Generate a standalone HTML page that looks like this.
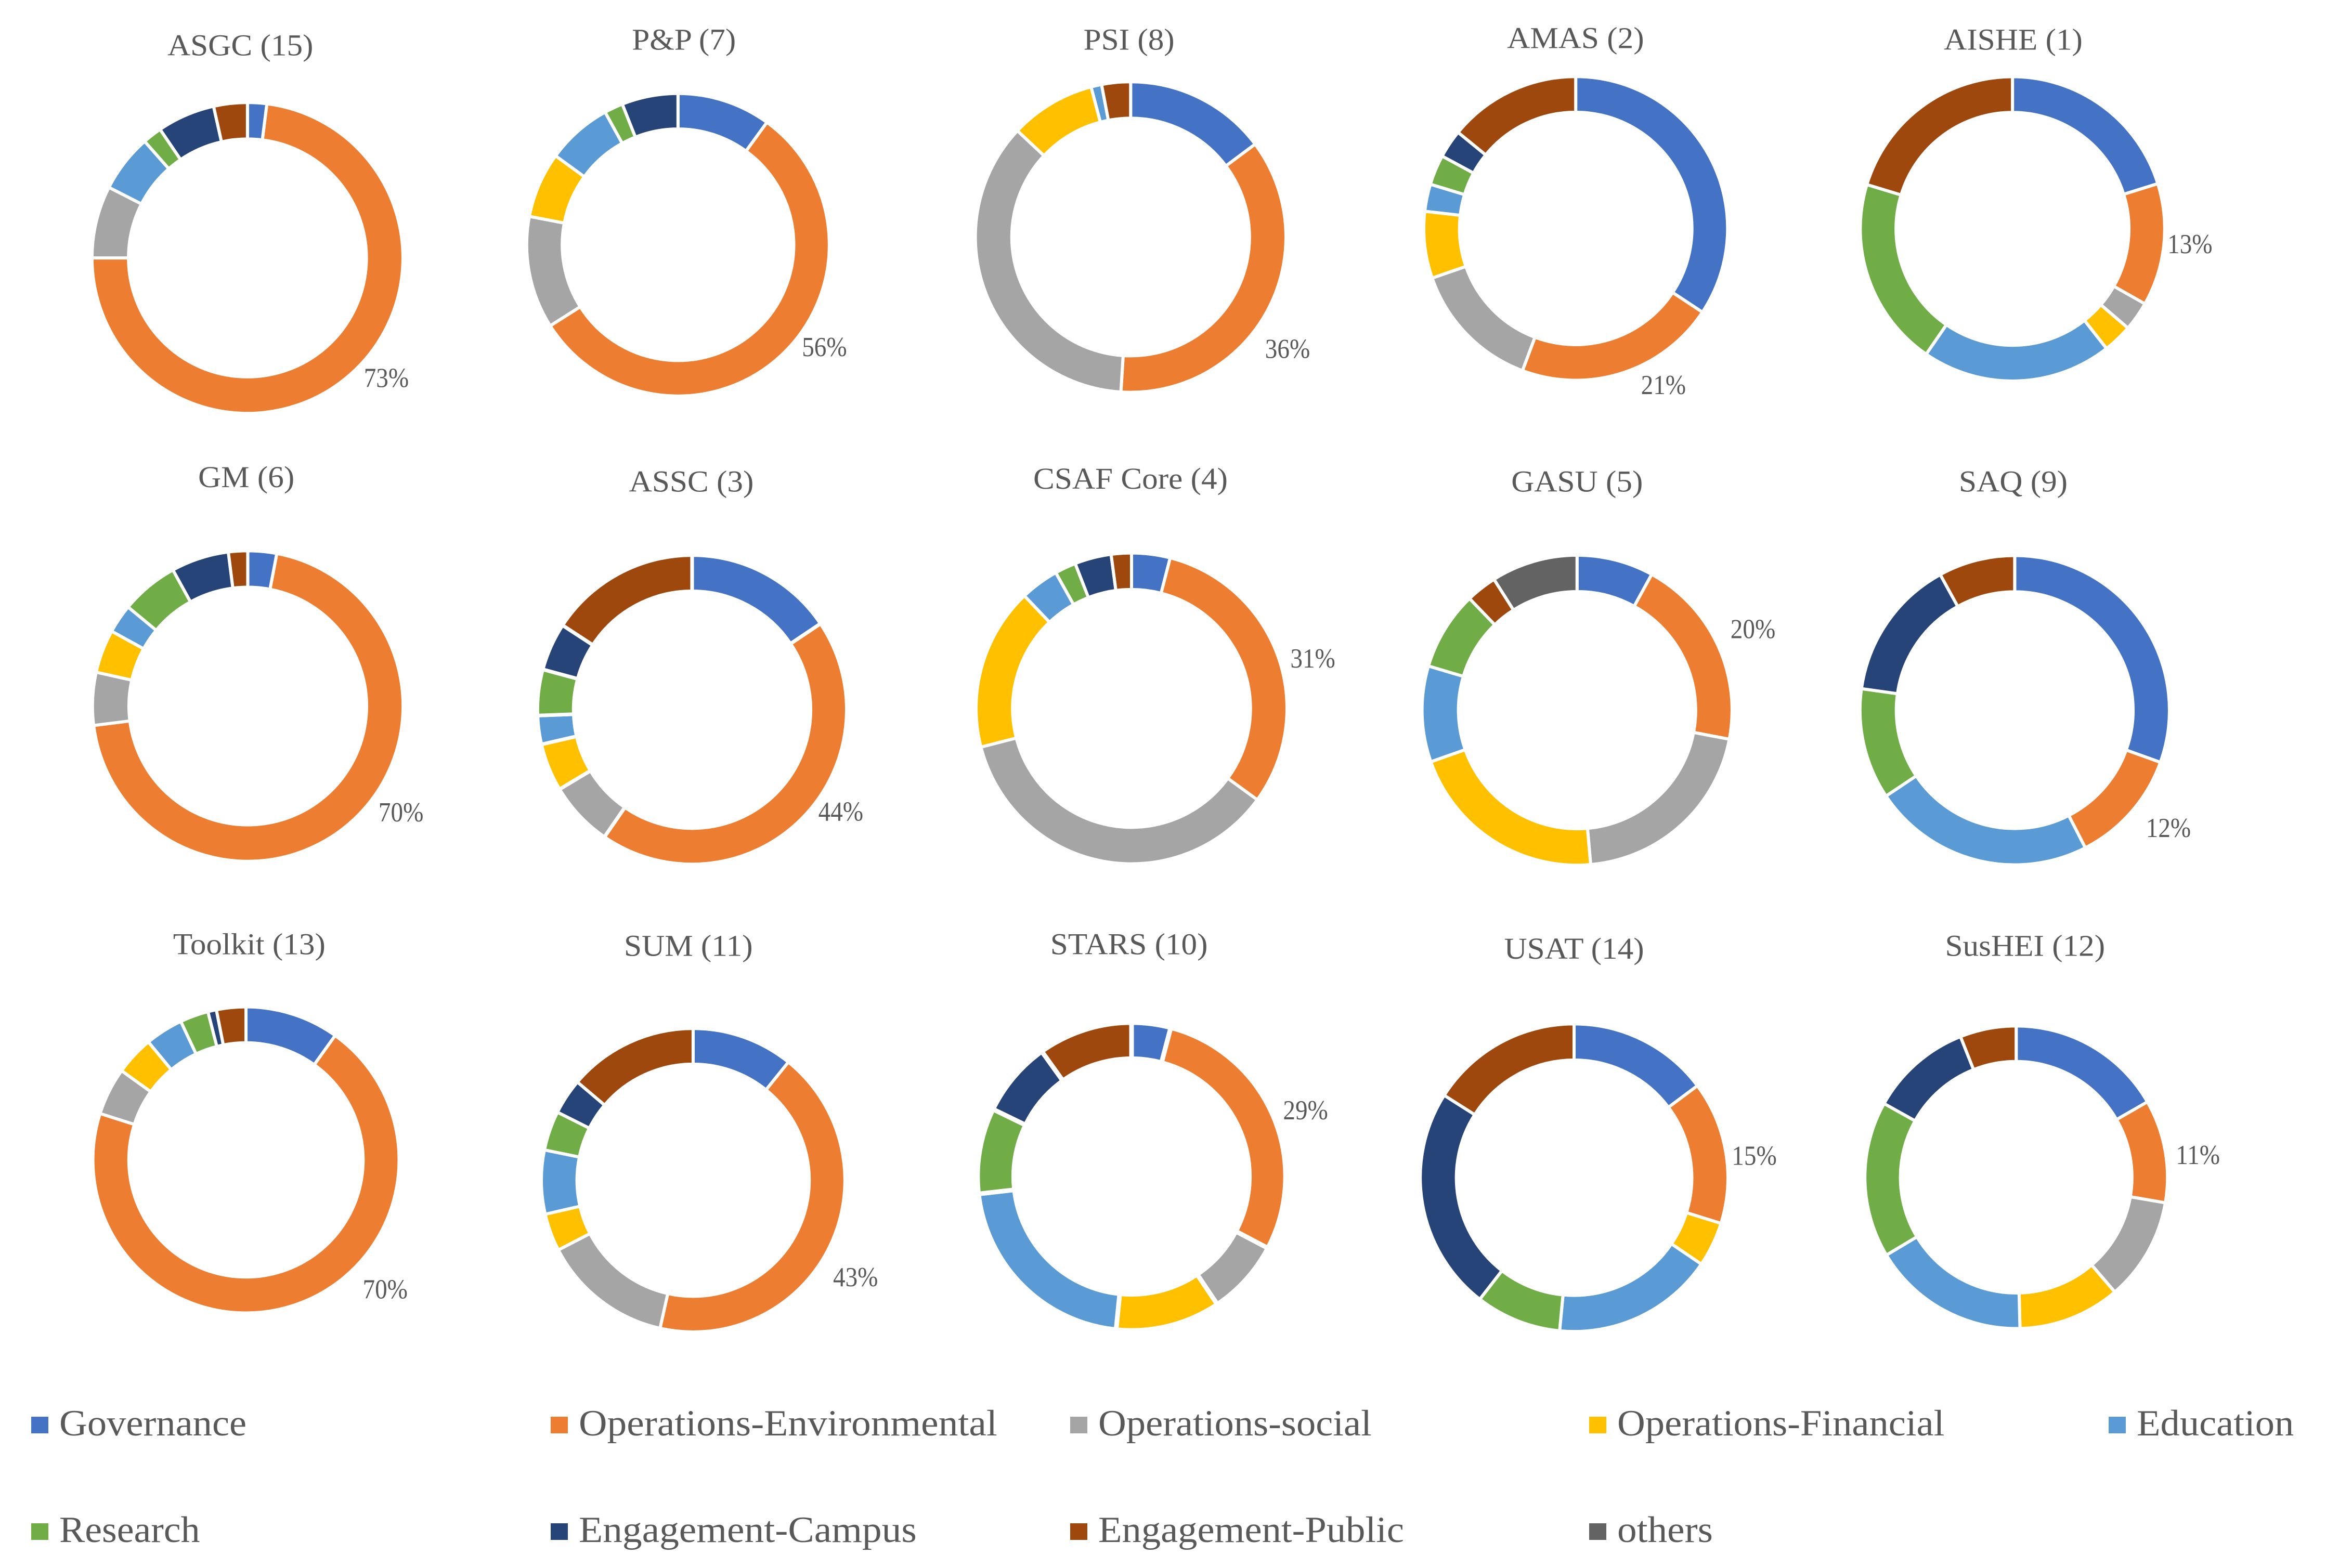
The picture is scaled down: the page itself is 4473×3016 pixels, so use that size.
<!DOCTYPE html>
<html lang="en">
<head>
<meta charset="utf-8">
<title>Donut charts of indicator categories by assessment tool</title>
<style>
html,body{margin:0;padding:0;background:#fff;width:4473px;height:3016px;overflow:hidden}
svg{display:block}
text{font-family:"Liberation Serif","Noto Serif CJK SC",serif;fill:#595959}
</style>
</head>
<body>
<svg id="chart" xmlns="http://www.w3.org/2000/svg" width="4473" height="3016" viewBox="0 0 4473 3016">
<rect width="4473" height="3016" fill="#ffffff"/>
</svg>
<script>
// Series order: Governance, Environmental, Social, Financial, Education, Research, Campus, Public, others
const categories = ['Governance','Operations-Environmental','Operations-social','Operations-Financial','Education','Research','Engagement-Campus','Engagement-Public','others'];
const toolNames = ['ASGC (15)','P&P (7)','PSI (8)','AMAS (2)','AISHE (1)','GM (6)','ASSC (3)','CSAF Core (4)','GASU (5)','SAQ (9)','Toolkit (13)','SUM (11)','STARS (10)','USAT (14)','SusHEI (12)'];

const asgcValues    = [2, 73, 7.5, 0, 6, 2, 6, 3.5, 0];
const ppValues      = [10, 56, 12, 7, 7, 2, 6, 0, 0];
const psiValues     = [14.8, 36.2, 36, 8.9, 1.1, 0, 0, 3, 0];
const amasValues    = [34.3, 21.4, 14, 7.1, 2.9, 3.2, 3, 14.1, 0];
const aisheValues   = [20.2, 13, 3.1, 3.1, 20.2, 20.1, 0, 20.3, 0];
const gmValues      = [3, 70, 5.5, 4.5, 3, 6, 6, 2, 0];
const asscValues    = [15.6, 44, 6.8, 5, 3, 4.8, 5, 15.8, 0];
const csafValues    = [4, 31, 36, 16.9, 4, 2.2, 3.8, 2.1, 0];
const gasuValues    = [8, 20, 20.6, 21, 10, 8.2, 0, 3.2, 9];
const saqValues     = [30.5, 12, 0, 0, 23.2, 11.6, 14.8, 8, 0];
const toolkitValues = [9.9, 70, 5, 4.1, 4, 3, 0.9, 3.1, 0];
const sumValues     = [10.8, 42.7, 13.9, 4, 6.8, 4.2, 3.8, 13.8, 0];
const starsValues   = [4.1, 28.6, 7.9, 11, 21.6, 9, 7.9, 9.9, 0];
const usatValues    = [14.8, 15, 0, 4.7, 17, 9, 23.5, 16, 0];
const susheiValues  = [16.7, 11, 11, 10.9, 16.8, 16.7, 10.9, 6, 0];

const allSeries = [asgcValues, ppValues, psiValues, amasValues, aisheValues, gmValues, asscValues, csafValues, gasuValues, saqValues, toolkitValues, sumValues, starsValues, usatValues, susheiValues];

// Presentation settings, separate from the data
const colors = ['#4472C4','#ED7D31','#A5A5A5','#FFC000','#5B9BD5','#70AD47','#264478','#9E480E','#636363'];
const UNIT = 2.853;
const INNER_RATIO = 0.765;
const SVG_NS = 'http://www.w3.org/2000/svg';
// [centre x, centre y, outer radius, title x, title y, label angle nudge in degrees, label radius factor, gap width]
const chartLayout = [
  [166.8,173.9,104.8, 162,31,  -7.8,1.18, 6],
  [457,165,102,       461,27, -11.9,1.18, 6],
  [762.1,159.8,104.7, 761,27,   7.0,1.24, 6],
  [1062.1,154,102.4,  1062,26,-11.3,1.18, 6],
  [1356.5,154.3,102.6,1357,27, -1.3,1.17, 6],
  [167,476,104.7,     166,322,-12.1,1.20, 6],
  [466.5,478.5,104.3, 466,325,-11.0,1.164,7],
  [762.7,477.6,104.8, 762,323,  4.3,1.21, 6],
  [1063,478.8,104.5,  1063,325, 0.4,1.25, 6],
  [1358,478.8,104.3,  1357,325,-3.9,1.25, 6],
  [165.8,782,103.2,   168,637,-28.8,1.24, 6],
  [467.2,795.7,102.3, 464,638,  5.0,1.245,6],
  [762.7,793.2,103.8, 761,637,  2.8,1.21, 9],
  [1061,794,103.7,    1061,640, 2.7,1.18, 6],
  [1359,793.7,102,    1365,638, 3.0,1.21, 6]
];
const legendColumns = [60, 1059, 2058, 3056, 4055];
const legendRows = [2758, 2963];
const legendStretch = [1.05, 1.063, 1.05, 1.05, 1.05, 1.04, 1.063, 1.05, 1.06];

const svg = document.getElementById('chart');

function angleScale(value, total) {
  return value / total * 2 * Math.PI;
}
function polar(cx, cy, r, a) {
  return [cx + r * Math.sin(a), cy - r * Math.cos(a)];
}
function arcPath(cx, cy, r0, r1, a0, a1) {
  const large = (a1 - a0) > Math.PI ? 1 : 0;
  const p0 = polar(cx, cy, r1, a0);
  const p1 = polar(cx, cy, r1, a1);
  const p2 = polar(cx, cy, r0, a1);
  const p3 = polar(cx, cy, r0, a0);
  return 'M' + p0[0] + ' ' + p0[1] +
    'A' + r1 + ' ' + r1 + ' 0 ' + large + ' 1 ' + p1[0] + ' ' + p1[1] +
    'L' + p2[0] + ' ' + p2[1] +
    'A' + r0 + ' ' + r0 + ' 0 ' + large + ' 0 ' + p3[0] + ' ' + p3[1] + 'Z';
}
function addText(parent, content, x, y, size, anchor, stretch) {
  const t = document.createElementNS(SVG_NS, 'text');
  t.setAttribute('x', x);
  t.setAttribute('y', y);
  t.setAttribute('font-size', size);
  t.setAttribute('text-anchor', anchor);
  t.textContent = content;
  parent.appendChild(t);
  const w = t.getComputedTextLength();
  t.setAttribute('textLength', w * stretch);
  t.setAttribute('lengthAdjust', 'spacingAndGlyphs');
  return t;
}
function slug(s) {
  return s.toLowerCase().replace(/[^a-z0-9]+/g, '-').replace(/^-|-$/g, '');
}

allSeries.forEach(function (values, i) {
  const layout = chartLayout[i];
  const cx = layout[0] * UNIT;
  const cy = layout[1] * UNIT;
  const r1 = layout[2] * UNIT;
  const r0 = r1 * INNER_RATIO;
  const total = values.reduce(function (a, b) { return a + b; }, 0);

  const group = document.createElementNS(SVG_NS, 'g');
  
  
  svg.appendChild(group);

  const title = addText(group, toolNames[i], layout[3] * UNIT, (layout[4] + 6.4) * UNIT, 58, 'middle', 1.055);
  
  

  let cumulative = 0;
  values.forEach(function (v, k) {
    const a0 = angleScale(cumulative, total);
    cumulative += v;
    const a1 = angleScale(cumulative, total);
    if (v <= 0) return;
    const slice = document.createElementNS(SVG_NS, 'path');
    slice.setAttribute('d', arcPath(cx, cy, r0, r1, a0, a1));
    slice.setAttribute('fill', colors[k]);
    slice.setAttribute('stroke', '#ffffff');
    slice.setAttribute('stroke-width', layout[7]);
    
    
    group.appendChild(slice);

    if (k === 1) {
      const mid = (a0 + a1) / 2 + layout[5] * Math.PI / 180;
      const pos = polar(cx, cy, r1 * layout[6], mid);
      const label = addText(group, Math.round(v) + '%', pos[0], pos[1] + 18, 53, 'middle', 0.89);
      
      
    }
  });
});

const legend = document.createElementNS(SVG_NS, 'g');


svg.appendChild(legend);

categories.forEach(function (name, k) {
  const col = k % legendColumns.length;
  const row = Math.floor(k / legendColumns.length);
  const x = legendColumns[col];
  const y = legendRows[row];
  const entry = document.createElementNS(SVG_NS, 'g');
  
  
  legend.appendChild(entry);

  const swatch = document.createElementNS(SVG_NS, 'rect');
  swatch.setAttribute('x', x);
  swatch.setAttribute('y', y - 33);
  swatch.setAttribute('width', 33);
  swatch.setAttribute('height', 32);
  swatch.setAttribute('fill', colors[k]);
  
  
  entry.appendChild(swatch);

  const label = addText(entry, name, x + 54, y + 3, 71, 'start', legendStretch[k]);
  
  
});
</script>
</body>
</html>
